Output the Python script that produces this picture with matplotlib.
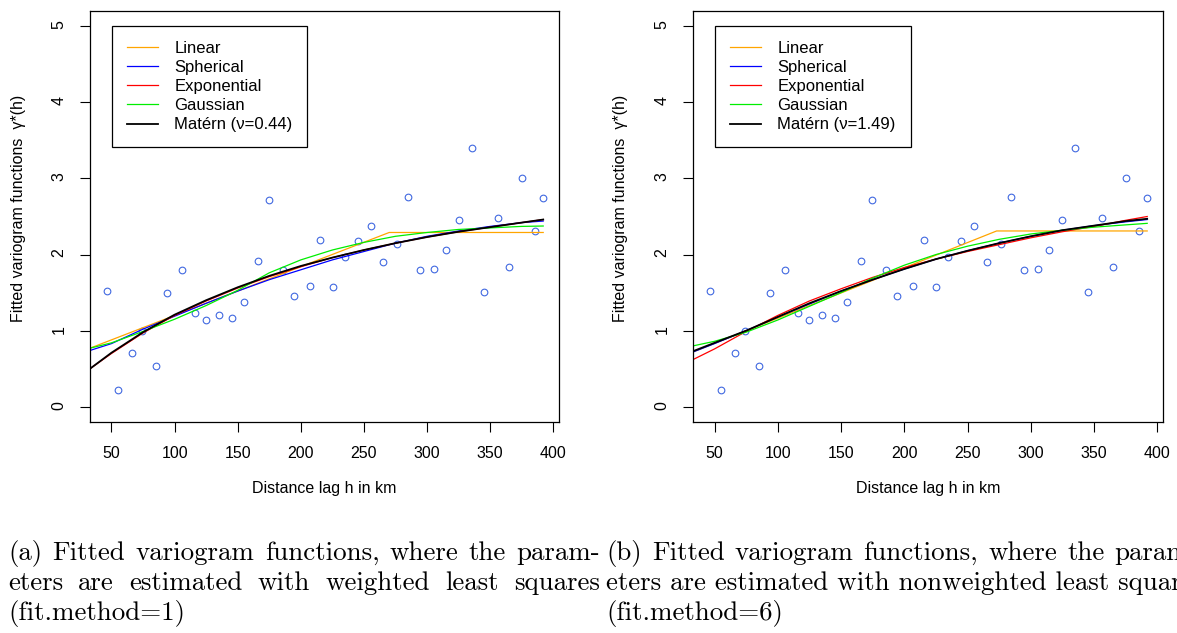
import matplotlib
matplotlib.use("Agg")
import matplotlib.pyplot as plt

W, H = 1177, 633

# empirical variogram (same points in both panels)
lag_km = [46.6, 55.5, 66.1, 74.3, 84.9, 94.1, 105.5, 115.8, 125.0, 135.0,
          145.1, 154.9, 165.7, 174.7, 185.8, 194.5, 206.9, 215.3, 225.4, 234.9,
          245.2, 255.2, 265.3, 276.4, 284.5, 294.3, 305.4, 314.7, 325.0, 335.3,
          345.0, 355.9, 365.1, 375.2, 385.2, 391.5]
gamma_hat = [1.518, 0.223, 0.709, 0.997, 0.534, 1.492, 1.794, 1.229, 1.142, 1.207,
             1.172, 1.378, 1.916, 2.712, 1.794, 1.457, 1.584, 2.192, 1.575, 1.964,
             2.174, 2.371, 1.899, 2.143, 2.752, 1.802, 1.807, 2.060, 2.454, 3.399,
             1.514, 2.485, 1.837, 3.005, 2.310, 2.743]

fit_h = [33, 50, 75, 100, 125, 150, 175, 200, 225, 250, 275, 300, 325, 350, 375, 392]

# (a) weighted least squares
lin_a_h = [33, 270, 392]
lin_a = [0.77, 2.29, 2.29]
sph_a = [0.74, 0.83, 1.02, 1.19, 1.36, 1.52, 1.67, 1.80, 1.93, 2.04, 2.15, 2.24, 2.31, 2.37, 2.42, 2.44]
exp_a = [0.50, 0.70, 0.97, 1.20, 1.39, 1.56, 1.71, 1.84, 1.96, 2.06, 2.15, 2.23, 2.30, 2.36, 2.42, 2.46]
gau_a = [0.77, 0.84, 0.99, 1.15, 1.33, 1.53, 1.76, 1.93, 2.06, 2.16, 2.24, 2.29, 2.33, 2.35, 2.37, 2.375]
mat_a = [0.50, 0.71, 0.98, 1.21, 1.40, 1.57, 1.72, 1.85, 1.96, 2.06, 2.15, 2.23, 2.30, 2.36, 2.42, 2.46]

# (b) nonweighted least squares
lin_b_h = [33, 273, 392]
lin_b = [0.72, 2.31, 2.31]
sph_b = [0.72, 0.83, 1.00, 1.18, 1.35, 1.52, 1.67, 1.81, 1.94, 2.05, 2.15, 2.24, 2.32, 2.38, 2.43, 2.46]
exp_b = [0.62, 0.76, 0.99, 1.20, 1.39, 1.55, 1.70, 1.83, 1.94, 2.04, 2.13, 2.22, 2.30, 2.37, 2.45, 2.50]
gau_b = [0.80, 0.86, 0.98, 1.14, 1.32, 1.50, 1.69, 1.86, 2.00, 2.11, 2.20, 2.27, 2.32, 2.36, 2.39, 2.41]
mat_b = [0.73, 0.84, 1.00, 1.18, 1.36, 1.52, 1.67, 1.81, 1.94, 2.05, 2.15, 2.24, 2.32, 2.38, 2.44, 2.47]

x_ticks = [50, 100, 150, 200, 250, 300, 350, 400]
y_ticks = [0, 1, 2, 3, 4, 5]

plt.rcParams["font.family"] = ["Liberation Sans", "DejaVu Sans"]


def draw_panel(ax, lin_h, lin, sph, expo, gau, mat, nu):
    ax.plot(lag_km, gamma_hat, "o", ms=4.8, mfc="none", mec="#4169E1", mew=0.8)
    ax.plot(lin_h, lin, color="#FFA500", lw=0.9, label="Linear")
    ax.plot(fit_h, sph, color="#0000FF", lw=0.9, label="Spherical")
    ax.plot(fit_h, expo, color="#FF0000", lw=0.9, label="Exponential")
    ax.plot(fit_h, gau, color="#00EE00", lw=0.9, label="Gaussian")
    ax.plot(fit_h, mat, color="black", lw=1.3, label=f"Matérn (ν={nu})")

    ax.set_xlim(33, 404.5)
    ax.set_ylim(-0.2, 5.2)
    ax.set_xticks(x_ticks)
    ax.set_yticks(y_ticks)
    ax.tick_params(length=7, width=0.8, pad=10, labelsize=11.5)
    ax.tick_params(axis="y", labelrotation=90)
    for s in ax.spines.values():
        s.set_linewidth(0.9)

    ax.set_xlabel("Distance lag h in km", fontsize=11.5, va="center")
    ax.xaxis.set_label_coords(0.5, -0.1606)
    ax.set_ylabel("Fitted variogram functions  γ*(h)", fontsize=11.5, va="center")
    ax.yaxis.set_label_coords(-0.1535, 0.52)

    leg = ax.legend(loc="upper left", bbox_to_anchor=(0.0463, 0.9642), borderaxespad=0,
                    fontsize=12, fancybox=False, framealpha=1, edgecolor="black",
                    handlelength=1.9, handletextpad=0.95, labelspacing=0.25, borderpad=0.9)
    leg.get_frame().set_linewidth(0.9)


fig = plt.figure(figsize=(W / 100, H / 100), dpi=100)
ax_a = fig.add_axes([90 / W, 1 - 422 / H, 469 / W, 411 / H])
ax_b = fig.add_axes([693 / W, 1 - 422 / H, 470 / W, 411 / H])
draw_panel(ax_a, lin_a_h, lin_a, sph_a, exp_a, gau_a, mat_a, "0.44")
draw_panel(ax_b, lin_b_h, lin_b, sph_b, exp_b, gau_b, mat_b, "1.49")

# captions, LaTeX-like justified text
cap = dict(family="cmr10", fontsize=19.4, va="baseline", ha="left")
rend = fig.canvas.get_renderer()


def justify(text, x0, x1, ypix):
    words = text.split()
    objs = [fig.text(0, 1 - ypix / H, w, **cap) for w in words]
    widths = [t.get_window_extent(rend).width for t in objs]
    gap = (x1 - x0 - sum(widths)) / (len(words) - 1)
    x = x0
    for t, w in zip(objs, widths):
        t.set_x(x / W)
        x += w + gap


justify("(a) Fitted variogram functions, where the param-", 8, 600, 560)
justify("eters are estimated with weighted least squares", 8, 600, 590)
fig.text(8 / W, 1 - 620 / H, "(fit.method=1)", **cap)
justify("(b) Fitted variogram functions, where the param-", 606, 1198, 560)
fig.text(606 / W, 1 - 590 / H, "eters are estimated with nonweighted least squares", **cap)
fig.text(606 / W, 1 - 620 / H, "(fit.method=6)", **cap)

fig.savefig("out.png", dpi=100)
